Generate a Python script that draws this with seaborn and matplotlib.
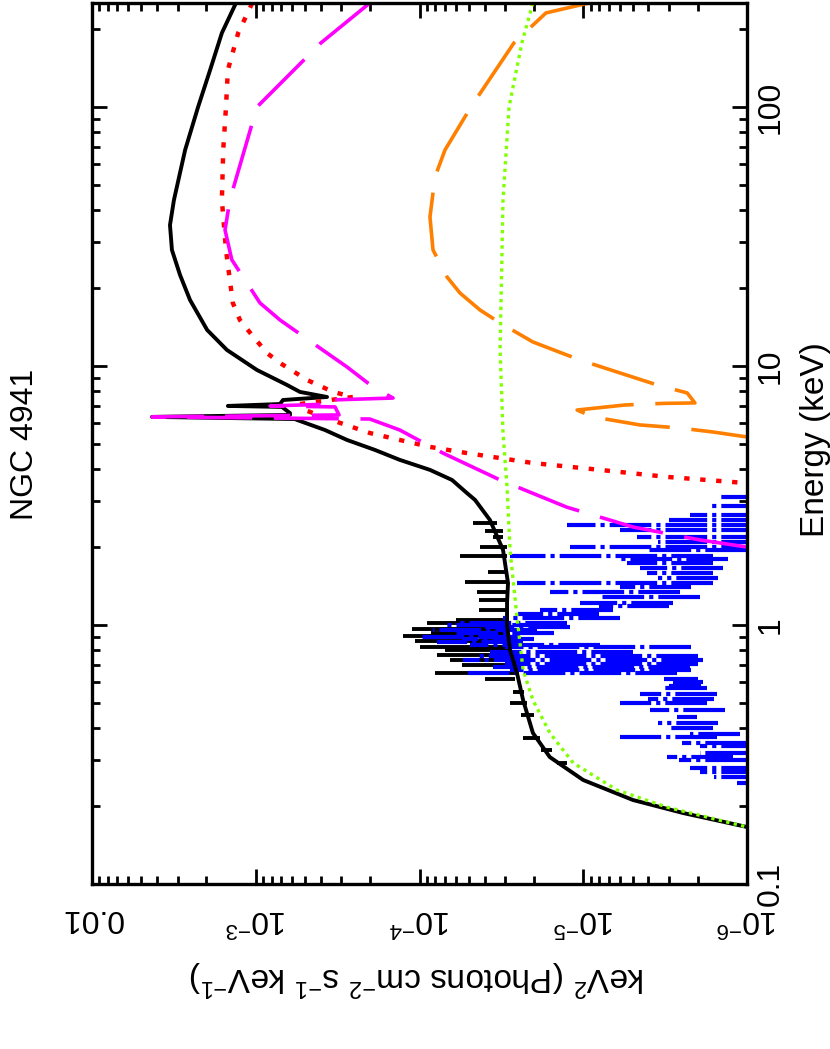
import numpy as np
import pandas as pd
import matplotlib
matplotlib.use('Agg')
import matplotlib.pyplot as plt
import seaborn as sns
from matplotlib.ticker import LogLocator, NullFormatter

# model components: energy (keV) and flux (keV^2 photons cm-2 s-1 keV-1)
total_energy = [252.1, 193.1, 138.9, 100, 68.2, 43.7, 35.0, 28.05, 22.46, 17.98, 13.77, 11.53, 9.65, 8.45,
                7.94, 7.59, 7.39, 7.13, 7.01, 6.95, 6.58, 6.47, 6.36, 6.24, 6.19, 5.66, 5.18, 4.74, 4.34,
                3.97, 3.63, 3.23, 3.04, 2.54, 1.95, 1.45, 1.22, 1.0, 0.80, 0.653, 0.513, 0.383, 0.309,
                0.252, 0.211, 0.188, 0.166, 0.141]
total_flux = [1.32e-3, 1.61e-3, 1.90e-3, 2.25e-3, 2.70e-3, 3.16e-3, 3.34e-3, 3.25e-3, 2.90e-3, 2.52e-3,
              1.98e-3, 1.50e-3, 9.83e-4, 6.45e-4, 5.37e-4, 3.67e-4, 6.82e-4, 7.11e-4, 1.48e-3, 6.92e-4,
              6.18e-4, 6.18e-4, 4.30e-3, 5.76e-4, 5.60e-4, 3.78e-4, 2.77e-4, 1.87e-4, 1.32e-4, 8.63e-5,
              6.33e-5, 5.13e-5, 4.58e-5, 3.71e-5, 3.09e-5, 2.88e-5, 2.92e-5, 2.92e-5, 2.80e-5, 2.54e-5,
              2.33e-5, 2.03e-5, 1.60e-5, 1.0e-5, 4.97e-6, 2.46e-6, 1.0e-6, 3.1e-7]

red_energy = [252.1, 193.1, 138.9, 100, 68.2, 43.7, 28.05, 17.51, 15.05, 13.41, 11.22, 10.27, 8.83, 7.94,
              7.59, 7.13, 6.76, 6.58, 6.03, 5.51, 5.18, 4.87, 4.61, 4.22, 3.97, 3.73, 3.53, 3.32]
red_flux = [1.05e-3, 1.28e-3, 1.48e-3, 1.52e-3, 1.58e-3, 1.61e-3, 1.52e-3, 1.38e-3, 1.25e-3, 1.08e-3,
            8.54e-4, 7.11e-4, 4.86e-4, 3.37e-4, 2.55e-4, 5.37e-4, 5.0e-4, 4.47e-4, 3.06e-4, 2.01e-4,
            1.32e-4, 8.63e-5, 5.13e-5, 2.03e-5, 7.9e-6, 3.08e-6, 1.0e-6, 4.75e-7]

magenta_energy = [252.1, 176.7, 100, 43.7, 33.5, 25.7, 17.51, 15.05, 11.22, 9.91, 8.29, 7.52, 7.39, 7.13,
                  7.01, 6.95, 6.47, 6.36, 6.24, 5.66, 5.32, 4.61, 3.63, 2.85, 2.39, 2.13, 2.0, 1.86]
magenta_flux = [2.01e-4, 4.0e-4, 9.83e-4, 1.44e-3, 1.54e-3, 1.40e-3, 9.42e-4, 7.11e-4, 3.67e-4, 2.77e-4,
                1.92e-4, 1.45e-4, 3.52e-4, 3.40e-4, 8.18e-4, 3.28e-4, 3.10e-4, 4.30e-3, 2.01e-4, 1.32e-4,
                1.10e-4, 7.19e-5, 3.22e-5, 1.26e-5, 4.97e-6, 1.94e-6, 1.0e-6, 4.75e-7]

orange_energy = [252.1, 230.7, 176.7, 100, 68.2, 53.7, 37.6, 28.05, 22.06, 19.13, 16.45, 14.66, 12.38,
                 10.55, 9.48, 8.45, 7.87, 7.20, 7.17, 7.07, 6.76, 6.36, 5.92, 5.76, 5.56, 5.32, 4.95]
orange_flux = [9.22e-6, 1.69e-5, 2.65e-5, 4.85e-5, 6.99e-5, 8.04e-5, 8.63e-5, 8.27e-5, 6.79e-5, 5.66e-5,
               4.27e-5, 3.22e-5, 2.03e-5, 1.05e-5, 6.22e-6, 3.54e-6, 2.32e-6, 2.08e-6, 3.26e-6, 5.56e-6,
               1.09e-5, 8.72e-6, 4.5e-6, 2.57e-6, 1.61e-6, 1.0e-6, 4.75e-7]

green_energy = [252.1, 176.7, 100, 43.7, 11.53, 5.51, 3.41, 1.95, 1.074, 0.67, 0.513, 0.383, 0.293,
                0.2306, 0.198, 0.166, 0.141]
green_flux = [2.03e-5, 2.37e-5, 2.84e-5, 3.09e-5, 3.22e-5, 3.09e-5, 2.92e-5, 2.80e-5, 2.54e-5, 2.33e-5,
              2.03e-5, 1.60e-5, 1.15e-5, 6.22e-6, 3.08e-6, 1.0e-6, 3.1e-7]

# black data: energy, upper and lower flux of each error bar
data_energy = [2.48, 2.3, 2.19, 2.0, 1.85, 1.6, 1.47, 1.34, 1.25, 1.14, 1.05, 1.02, 0.965, 0.93, 0.907,
               0.867, 0.822, 0.80, 0.766, 0.733, 0.70, 0.653, 0.62, 0.55, 0.50, 0.45, 0.366, 0.33, 0.293]
data_hi = [4.71e-5, 4.0e-5, 3.56e-5, 4.27e-5, 5.66e-5, 3.8e-5, 5.27e-5, 4.45e-5, 4.35e-5, 4.35e-5,
           6.0e-5, 9.0e-5, 1.11e-4, 8.5e-5, 1.26e-4, 1.06e-4, 9.93e-5, 7.0e-5, 7.82e-5, 6.5e-5,
           5.5e-5, 8.04e-5, 4.0e-5, 2.7e-5, 2.8e-5, 2.4e-5, 2.33e-5, 1.8e-5, 1.45e-5]
data_lo = [3.36e-5, 3.1e-5, 3.09e-5, 2.92e-5, 2.92e-5, 2.9e-5, 2.92e-5, 2.92e-5, 2.92e-5, 2.92e-5,
           3.0e-5, 3.0e-5, 2.9e-5, 2.9e-5, 2.9e-5, 2.9e-5, 2.9e-5, 2.9e-5, 2.9e-5, 2.9e-5,
           2.8e-5, 2.54e-5, 2.6e-5, 2.3e-5, 2.2e-5, 2.0e-5, 1.84e-5, 1.55e-5, 1.26e-5]

# blue data
blue_energy = [3.12, 2.88, 2.66, 2.55, 2.43, 2.33, 2.19, 2.1, 2.0, 1.95, 1.85, 1.8, 1.73, 1.66, 1.59, 1.52,
               1.45, 1.40, 1.34, 1.28, 1.22, 1.18, 1.14, 1.10, 1.06, 1.02, 1.00, 0.98, 0.96, 0.93, 0.90,
               0.88, 0.86, 0.84, 0.82, 0.79, 0.76, 0.73, 0.71, 0.69, 0.67, 0.65, 0.62, 0.60, 0.58, 0.57,
               0.54, 0.52, 0.50, 0.47, 0.44, 0.42, 0.40, 0.38, 0.37, 0.35, 0.34, 0.32, 0.31, 0.30, 0.28,
               0.27, 0.26, 0.245]
blue_hi = [1.52e-6, 1.73e-6, 2.23e-6, 3.0e-6, 1.26e-5, 5.97e-6, 4.7e-6, 3.5e-6, 1.2e-5, 4.0e-6,
           2.8e-5, 6.0e-6, 5.4e-6, 4.5e-6, 4.08e-6, 3.5e-6, 2.54e-5, 6.0e-6, 1.6e-5, 7.9e-6,
           1.05e-5, 8.0e-6, 1.84e-5, 2.5e-5, 3.09e-5, 6.07e-5, 7.0e-5, 4.0e-5, 8.27e-5, 6.0e-5,
           9.93e-5, 5.5e-5, 7.82e-5, 4.92e-5, 3.0e-5, 3.71e-5, 4.5e-5, 5.42e-5, 3.0e-5, 3.56e-5,
           2.8e-5, 5.42e-5, 3.2e-6, 2.83e-6, 3.0e-6, 3.26e-6, 4.5e-6, 4.0e-6, 5.97e-6, 3.91e-6,
           2.68e-6, 3.5e-6, 3.08e-6, 2.23e-6, 5.97e-6, 2.5e-6, 1.94e-6, 1.94e-6, 3.08e-6, 2.6e-6,
           2.23e-6, 1.94e-6, 1.6e-6, 1.15e-6]
blue_lo = [8e-7, 8e-7, 8e-7, 8e-7, 8e-7, 8e-7, 8e-7, 8e-7, 8e-7, 1.0e-6,
           1.61e-6, 1.3e-6, 1.61e-6, 1.4e-6, 1.61e-6, 1.5e-6, 1.61e-6, 2.2e-6, 2.57e-6, 1.94e-6,
           2.83e-6, 3.0e-6, 6.6e-6, 8.0e-6, 5.97e-6, 1.26e-5, 1.5e-5, 1.2e-5, 1.92e-5, 1.5e-5,
           2.43e-5, 2.0e-5, 2.33e-5, 7.9e-6, 2.2e-6, 4.97e-6, 2.0e-6, 1.86e-6, 2.0e-6, 2.23e-6,
           2.2e-6, 2.68e-6, 2.0e-6, 1.86e-6, 1.9e-6, 1.75e-6, 1.52e-6, 1.6e-6, 1.75e-6, 1.36e-6,
           2.02e-6, 1.5e-6, 1.61e-6, 1.1e-6, 1.52e-6, 1.0e-6, 8e-7, 1.0e-6, 1.22e-6, 1.0e-6,
           8e-7, 8e-7, 8e-7, 8e-7]

flux_ticks = [1e-6, 1e-5, 1e-4, 1e-3, 1e-2]
flux_tick_labels = ['$10^{-6}$', '$10^{-5}$', '$10^{-4}$', '$10^{-3}$', '0.01']
energy_ticks = [0.1, 1, 10, 100]
energy_tick_labels = ['0.1', '1', '10', '100']

plt.rcParams['font.family'] = ['Liberation Sans', 'DejaVu Sans']
plt.rcParams['mathtext.default'] = 'regular'

fig = plt.figure(figsize=(8.3, 10.49), dpi=100)
ax = fig.add_axes([92/830, 1 - 884/1049, 655/830, 881/1049])
ax.set_xscale('log')
ax.set_yscale('log')

# data first, models on top
ax.hlines(data_energy, data_lo, data_hi, colors='black', lw=2.8)
ax.hlines(blue_energy, blue_lo, blue_hi, colors='#0000ff', lw=3.0,
          linestyles=[(0, (10, 1.2, 1, 1.2))])

models = [
    (total_energy, total_flux, 'black', '-', 2.8),
    (red_energy, red_flux, '#ff0000', (0, (1.2, 2.4)), 3.2),
    (magenta_energy, magenta_flux, '#ff00ff', (0, (18, 6)), 2.6),
    (orange_energy, orange_flux, '#ff8000', (0, (18, 6)), 2.6),
    (green_energy, green_flux, '#80ff00', (0, (1.0, 1.3)), 2.4),
]
for e, f, col, ls, lw in models:
    sns.lineplot(x=f, y=e, sort=False, estimator=None, color=col,
                 linestyle=ls, linewidth=lw, ax=ax)

ax.set_xlabel('')
ax.set_ylabel('')

ax.set_xticks(flux_ticks, labels=flux_tick_labels)
ax.set_yticks(energy_ticks, labels=energy_tick_labels)
for axis in (ax.xaxis, ax.yaxis):
    axis.set_minor_locator(LogLocator(base=10, subs=np.arange(2, 10), numticks=50))
    axis.set_minor_formatter(NullFormatter())
ax.set_xlim(1e-2, 1e-6)
ax.set_ylim(0.1, 252)

ax.tick_params(which='both', direction='in', top=True, bottom=True, left=True, right=True,
               width=2.0, color='black')
ax.tick_params(which='major', length=11)
ax.tick_params(which='minor', length=6)
ax.tick_params(axis='x', labelsize=23, labelrotation=180, pad=14)
ax.tick_params(axis='y', labelleft=False, labelright=True, labelsize=23, labelrotation=90, pad=6)
for lbl in ax.get_yticklabels():
    lbl.set_va('center')
for sp in ax.spines.values():
    sp.set_linewidth(2.4)
    sp.set_color('black')

fig.text(25/830, 1 - 444/1049, 'NGC 4941', rotation=90, ha='center', va='center', fontsize=23)
fig.text(815/830, 1 - 440/1049, 'Energy (keV)', rotation=90, ha='center', va='center', fontsize=24)
fig.text(417/830, 1 - 978/1049, 'keV$^{2}$ (Photons cm$^{-2}$ s$^{-1}$ keV$^{-1}$)',
         rotation=180, ha='center', va='center', fontsize=24)

fig.savefig('out.png', dpi=100)
